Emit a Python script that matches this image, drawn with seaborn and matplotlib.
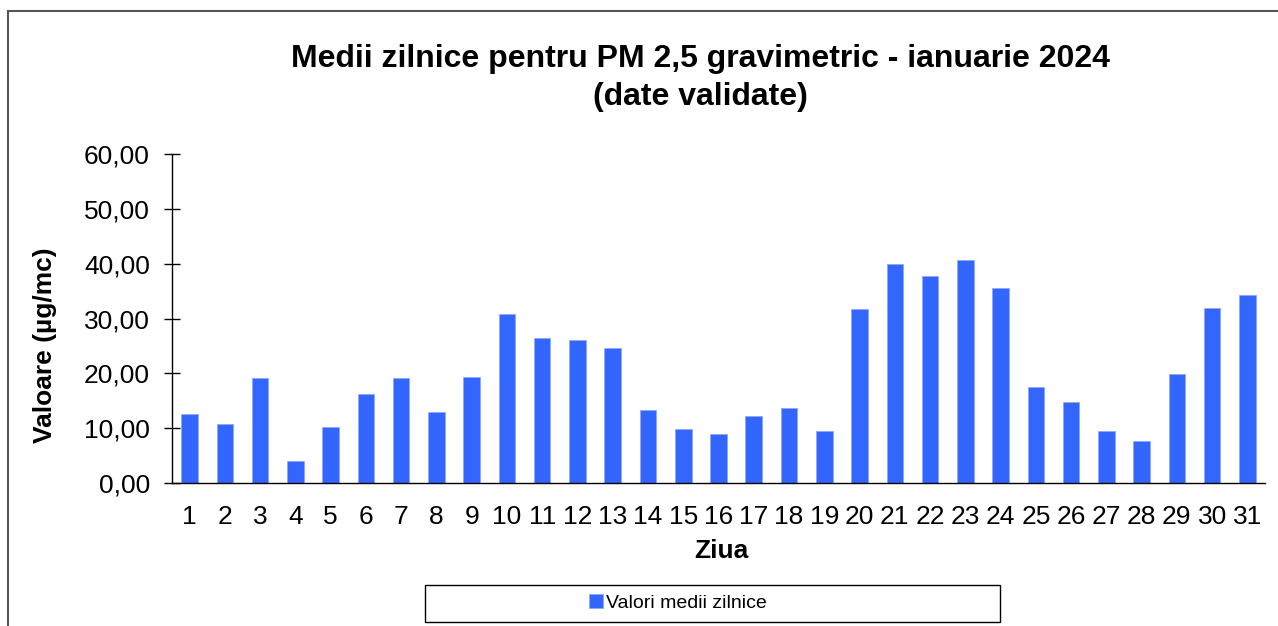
import matplotlib
matplotlib.use('Agg')
import matplotlib.pyplot as plt
from matplotlib.patches import Rectangle
import seaborn as sns
import pandas as pd

# Data
days = list(range(1, 32))
values = [12.5, 10.7, 19.1, 4.0, 10.3, 16.2, 19.1, 12.9, 19.4, 30.9,
          26.4, 26.0, 24.7, 13.4, 9.8, 8.9, 12.2, 13.7, 9.4, 31.7,
          39.9, 37.7, 40.7, 35.6, 17.5, 14.8, 9.4, 7.6, 19.8, 32.0, 34.3]
ytick_values = [0, 10, 20, 30, 40, 50, 60]
ytick_labels = ['0,00', '10,00', '20,00', '30,00', '40,00', '50,00', '60,00']
series_name = 'Valori medii zilnice'

df = pd.DataFrame({'Ziua': days, 'Valoare': values})

sns.set_style('white')
plt.rcParams['font.family'] = ['Liberation Sans', 'DejaVu Sans']
plt.rcParams['text.color'] = 'black'

fig = plt.figure(figsize=(12.78, 6.26), dpi=100)
ax = fig.add_axes([172 / 1278, 1 - 483 / 626, (1265 - 172) / 1278, (483 - 154) / 626])

sns.barplot(data=df, x='Ziua', y='Valoare', color='#3366FF', width=0.47,
            label=series_name, ax=ax, saturation=1, edgecolor='#8FA8FF', linewidth=0.6)

ax.set_ylim(0, 60)
ax.set_xlim(-0.5, len(days) - 0.5)
ax.set_yticks(ytick_values)
ax.set_yticklabels(ytick_labels)
ax.set_xlabel('')
ax.set_ylabel('')
ax.tick_params(axis='y', left=True, direction='inout', length=12, width=1, pad=10,
               labelsize=19, colors='black')
ax.tick_params(axis='x', bottom=False, length=0, pad=16, labelsize=19, colors='black')
for side in ['top', 'right']:
    ax.spines[side].set_visible(False)
for side in ['left', 'bottom']:
    ax.spines[side].set_color('black')
    ax.spines[side].set_linewidth(1)

# Title and axis labels
fig.text(700 / 1278, 1 - 78 / 626,
         'Medii zilnice pentru PM 2,5 gravimetric - ianuarie 2024\n(date validate)',
         ha='center', va='center', fontsize=23, fontweight='bold', linespacing=1.32)
fig.text(45 / 1278, 1 - 345 / 626, 'Valoare (µg/mc)', rotation=90,
         ha='center', va='center', fontsize=19, fontweight='bold')
fig.text(721 / 1278, 1 - 551 / 626, 'Ziua', ha='center', va='center',
         fontsize=19, fontweight='bold')

# Legend with its own box
fig.patches.append(Rectangle((425 / 1278, 1 - 622 / 626), 575 / 1278, 37 / 626,
                             transform=fig.transFigure, fill=False,
                             edgecolor='black', linewidth=1))
ax.legend(loc='center', bbox_to_anchor=(678 / 1278, 1 - 603 / 626),
          bbox_transform=fig.transFigure, frameon=False, fontsize=14,
          handlelength=0.7, handleheight=0.7, handletextpad=0.15)

# Outer chart border
fig.patches.append(Rectangle((8 / 1278, -0.2), 1.2, 1.2 - 11 / 626,
                             transform=fig.transFigure, fill=False,
                             edgecolor='#555555', linewidth=1.5))

fig.savefig('out.png', dpi=100)
